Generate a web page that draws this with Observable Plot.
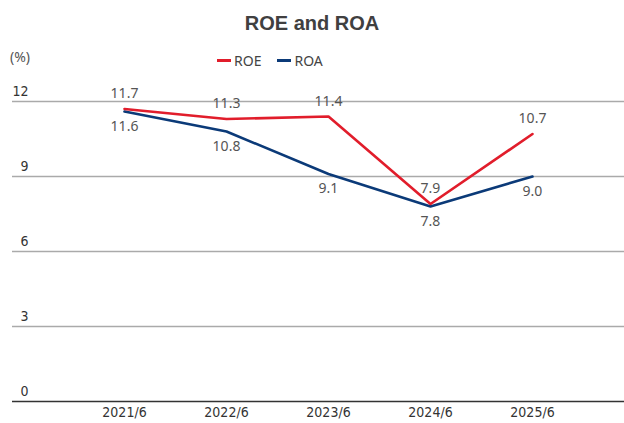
<!DOCTYPE html>
<html>
<head>
<meta charset="utf-8">
<script src="https://cdn.jsdelivr.net/npm/d3@7"></script>
<script src="https://cdn.jsdelivr.net/npm/@observablehq/plot@0.6"></script>
<style>
  body { margin: 0; background: #fff; font-family: "Noto Sans", sans-serif; }
  #wrap { width: 624px; height: 423px; position: relative; }
  #title { height: 45px; line-height: 46px; text-align: center; font-family: "Liberation Sans", Arial, sans-serif; font-weight: bold; font-size: 20px; color: #404040; }
  #legendRow { height: 30px; position: relative; font-size: 14px; color: #444; }
  #unit { position: absolute; left: 10px; top: 2px; font-size: 14px; color: #555; }
  #legend { position: absolute; left: 217px; top: 6px; display: flex; align-items: center; }
  .sw { display: inline-block; width: 14px; height: 3px; margin-right: 3px; }
  .item { display: flex; align-items: center; margin-right: 16px; }
  svg { display: block; }
</style>
</head>
<body>
<div id="wrap">
  <div id="title">ROE and ROA</div>
  <div id="legendRow"><span id="unit">(%)</span><div id="legend"></div></div>
  <div id="chart"></div>
</div>
<script>
const years = ["2021/6", "2022/6", "2023/6", "2024/6", "2025/6"];
const roe = [11.7, 11.3, 11.4, 7.9, 10.7];
const roa = [11.6, 10.8, 9.1, 7.8, 9.0];
const yTicks = [0, 3, 6, 9, 12];
const seriesNames = ["ROE", "ROA"];
const seriesColors = ["#e11d2b", "#0b3a78"];

const roeData = years.map((y, i) => ({year: y, value: roe[i]}));
const roaData = years.map((y, i) => ({year: y, value: roa[i]}));

const legend = document.getElementById("legend");
seriesNames.forEach((n, i) => {
  const it = document.createElement("div");
  it.className = "item";
  it.innerHTML = `<span class="sw" style="background:${seriesColors[i]}"></span><span>${n}</span>`;
  legend.appendChild(it);
});

const chart = Plot.plot({
  width: 624,
  height: 348,
  marginTop: 26,
  marginBottom: 22,
  marginLeft: 12,
  marginRight: 0,
  style: {fontFamily: "'Liberation Sans Narrow', 'DejaVu Sans Condensed', sans-serif", fontSize: "14px", color: "#333"},
  x: {type: "point", domain: years, range: [123, 532], padding: 0},
  y: {domain: [0, 12]},
  marks: [
    Plot.ruleY(yTicks.filter(d => d > 0), {stroke: "#aaa", strokeWidth: 1.3}),
    Plot.ruleY([0], {stroke: "#333", strokeWidth: 1.3}),
    Plot.axisY(yTicks, {tickSize: 0, tickPadding: 3, dx: 19, dy: -10, label: null, fill: "#333"}),
    Plot.axisX({tickSize: 0, tickPadding: 6, label: null, fill: "#333"}),
    Plot.line(roaData, {x: "year", y: "value", stroke: seriesColors[1], strokeWidth: 2.6}),
    Plot.line(roeData, {x: "year", y: "value", stroke: seriesColors[0], strokeWidth: 2.6}),
    Plot.text(roeData, {x: "year", y: "value", text: d => d.value.toFixed(1), dy: -15, fill: "#555", fontSize: 14, fontFamily: "'Noto Sans', sans-serif"}),
    Plot.text(roaData, {x: "year", y: "value", text: d => d.value.toFixed(1), dy: 15, fill: "#555", fontSize: 14, fontFamily: "'Noto Sans', sans-serif"})
  ]
});
document.getElementById("chart").appendChild(chart);
</script>
</body>
</html>
